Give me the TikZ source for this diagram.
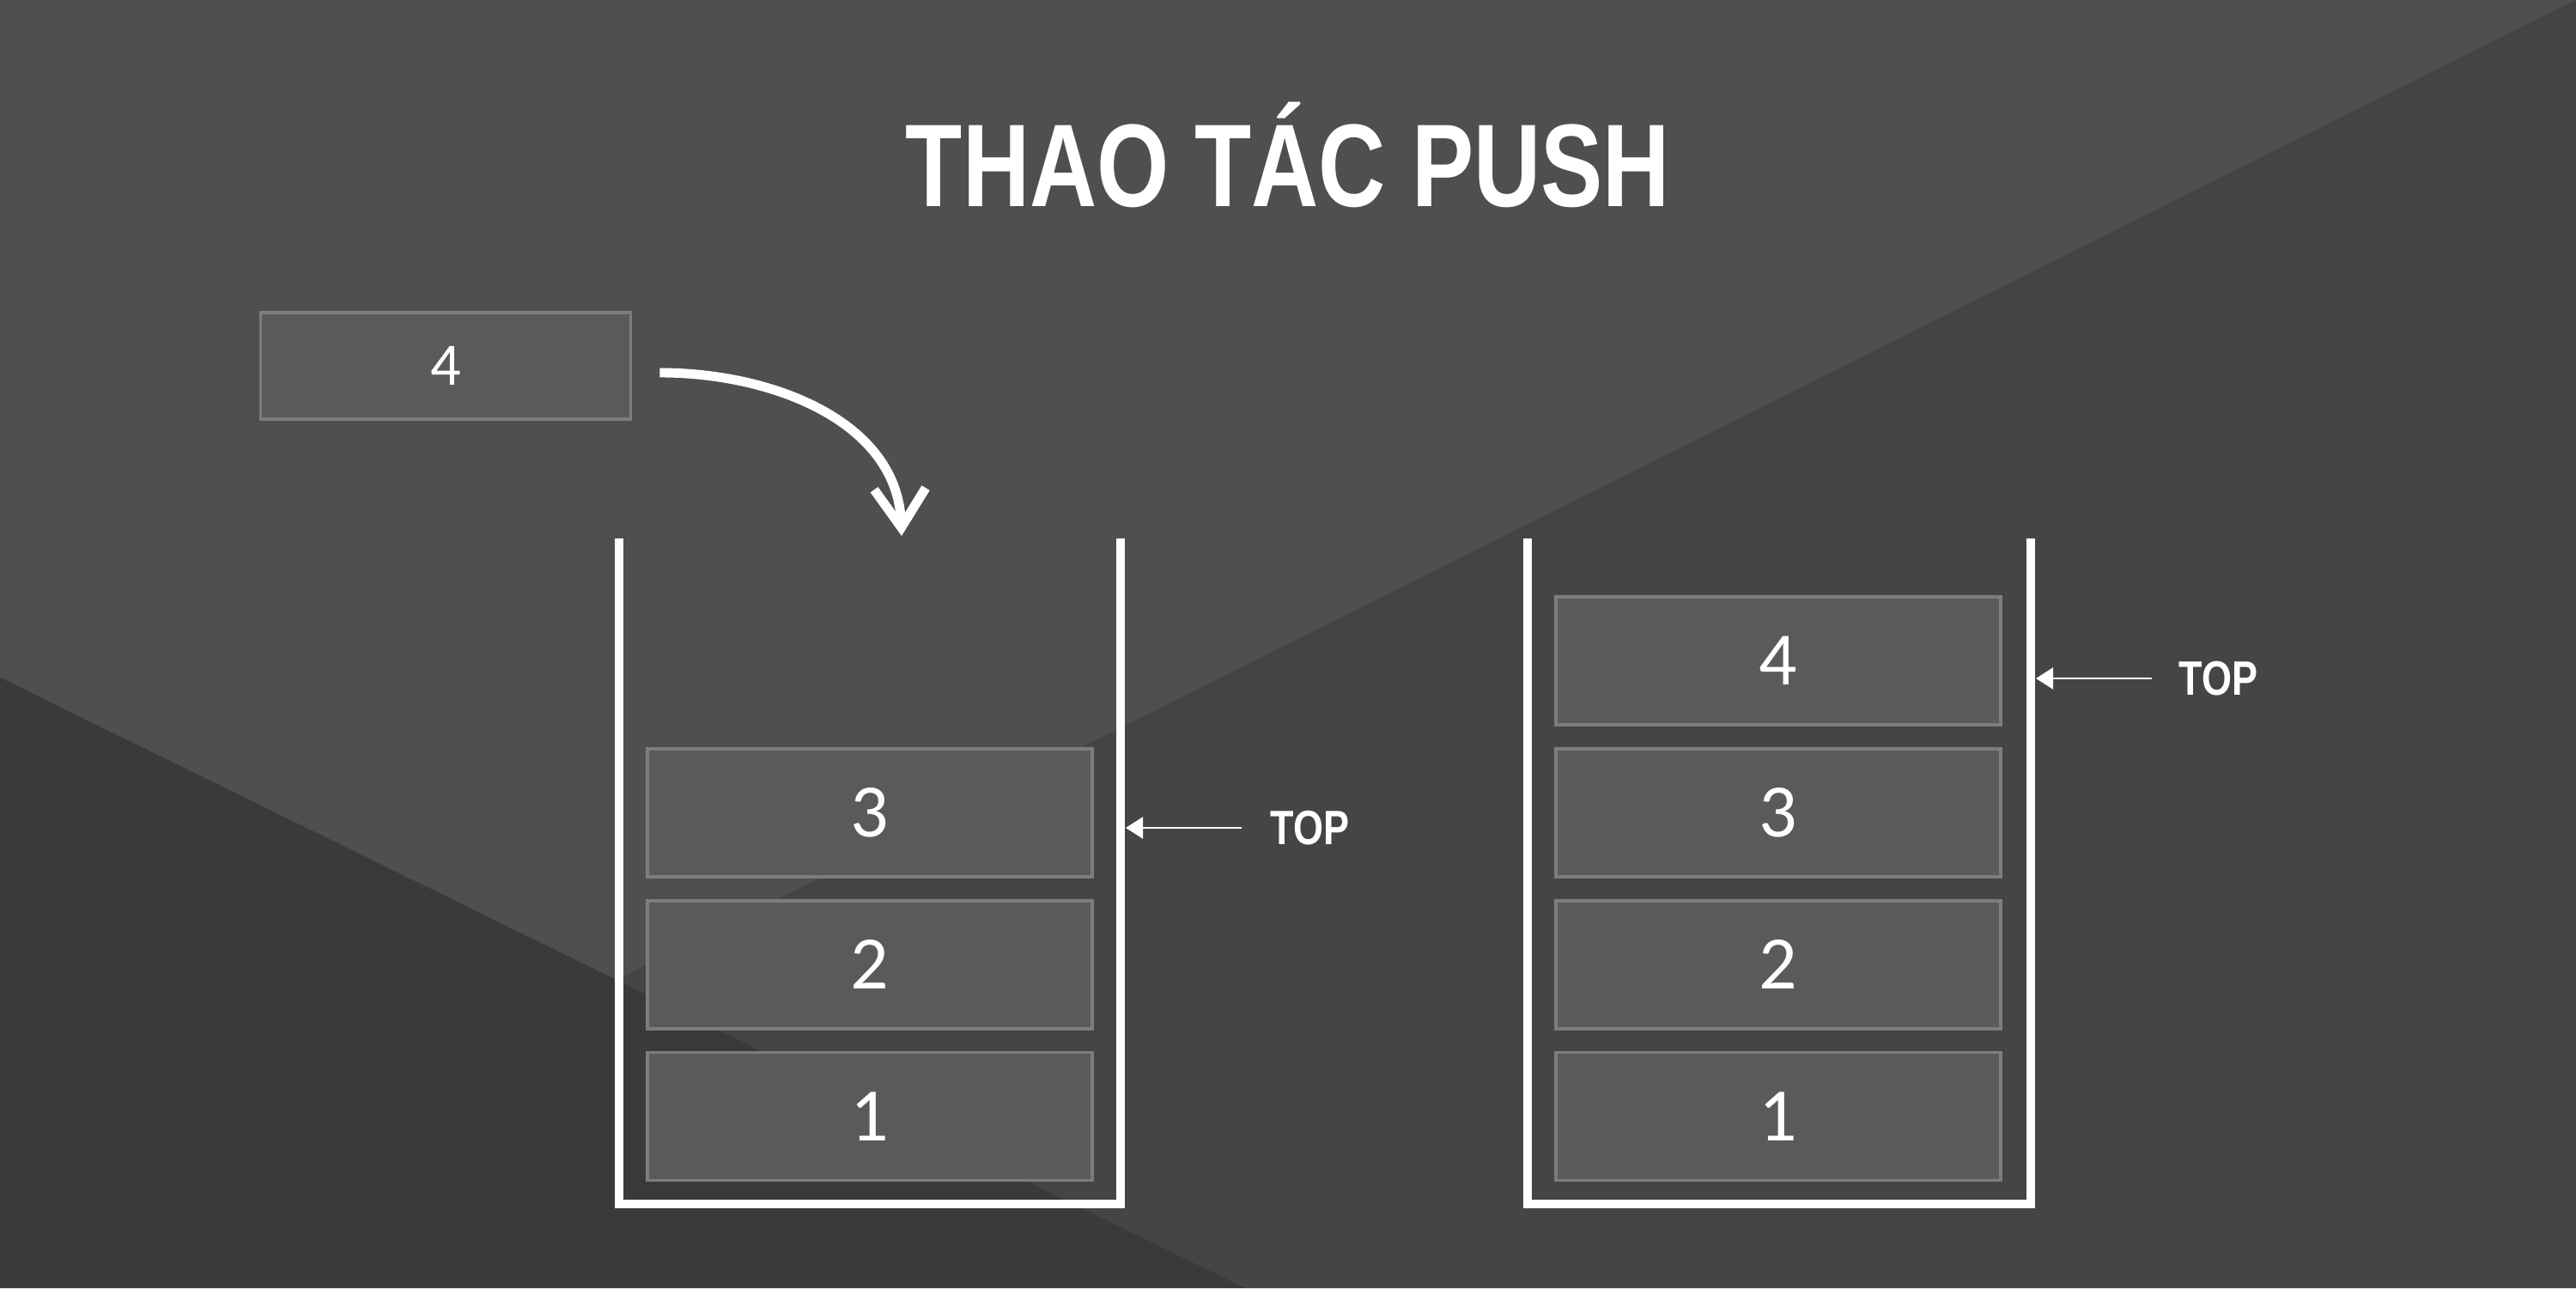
\documentclass[tikz,border=0pt]{standalone}
\usepackage{fontspec}
\setmainfont{Carlito}
\newfontfamily\headfont[FakeStretch=0.79]{Liberation Sans}
\newfontfamily\tagfont[FakeStretch=0.80]{Liberation Sans}
\usepackage{tikz}
\usetikzlibrary{arrows.meta,positioning}
\definecolor{slatetop}{RGB}{79,79,79}
\definecolor{slateright}{RGB}{69,69,69}
\definecolor{slatelow}{RGB}{58,58,58}
\definecolor{cellfill}{RGB}{90,90,90}
\definecolor{celledge}{RGB}{125,125,125}

\begin{document}
\begin{tikzpicture}[
  >={Triangle[length=2mm,width=2.5mm]},
  cell/.style={draw=celledge, line width=1.1pt, fill=cellfill, text=white, minimum width=5.18cm, minimum height=1.49cm, inner sep=0pt, font=\fontsize{25}{29}\selectfont},
  hdr/.style={text=white, font=\headfont\bfseries\fontsize{39}{44}\selectfont},
  toptag/.style={text=white, inner sep=0pt, font=\tagfont\bfseries\fontsize{16}{19}\selectfont},
  wall/.style={draw=white, line width=3.1pt},
  ptr/.style={->, white, line width=0.6pt},
  push/.style={-{Straight Barb[length=4.5mm,width=6mm]}, white, line width=3.1pt}
]
\useasboundingbox (0,0) rectangle (30,15);
% background
\fill[slatetop] (0,0) rectangle (30,15);
\fill[slateright] (30,15) -- (7.18,3.59) -- (14.5,0) -- (30,0) -- cycle;
\fill[slatelow] (0,7.11) -- (14.5,0) -- (0,0) -- cycle;
% title
\node[hdr, anchor=base] (title) at (15,12.59) {THAO TÁC PUSH};
% element to push
\node[cell, minimum width=4.31cm, minimum height=1.24cm, font=\fontsize{20}{24}\selectfont] (new) at (5.19,10.74) {4};
% stack before
\node[cell] (l1) at (10.13,2.0) {1};
\node[cell, above=0.24cm of l1] (l2) {2};
\node[cell, above=0.24cm of l2] (l3) {3};
\draw[wall] (7.21,8.73) -- (7.21,0.98) -- (13.05,0.98) -- (13.05,8.73);
% stack after
\node[cell] (r1) at (20.71,2.0) {1};
\node[cell, above=0.24cm of r1] (r2) {2};
\node[cell, above=0.24cm of r2] (r3) {3};
\node[cell, above=0.24cm of r3] (r4) {4};
\draw[wall] (17.79,8.73) -- (17.79,0.98) -- (23.65,0.98) -- (23.65,8.73);
% top pointers
\node[toptag, anchor=west] (ltop) at (14.79,5.36) {TOP};
\node[toptag, anchor=west] (rtop) at (25.37,7.10) {TOP};
\coordinate (lwall) at (13.11,5.36);
\coordinate (rwall) at (23.71,7.10);
\draw[ptr, shorten <=3.3mm] (ltop.west) -- (lwall);
\draw[ptr, shorten <=3.1mm] (rtop.west) -- (rwall);
% push arrow
\coordinate (drop) at (10.50,8.76);
\draw[push] ([xshift=3.2mm,yshift=-0.8mm]new.east) to[out=0,in=92] (drop);
\end{tikzpicture}
\end{document}
